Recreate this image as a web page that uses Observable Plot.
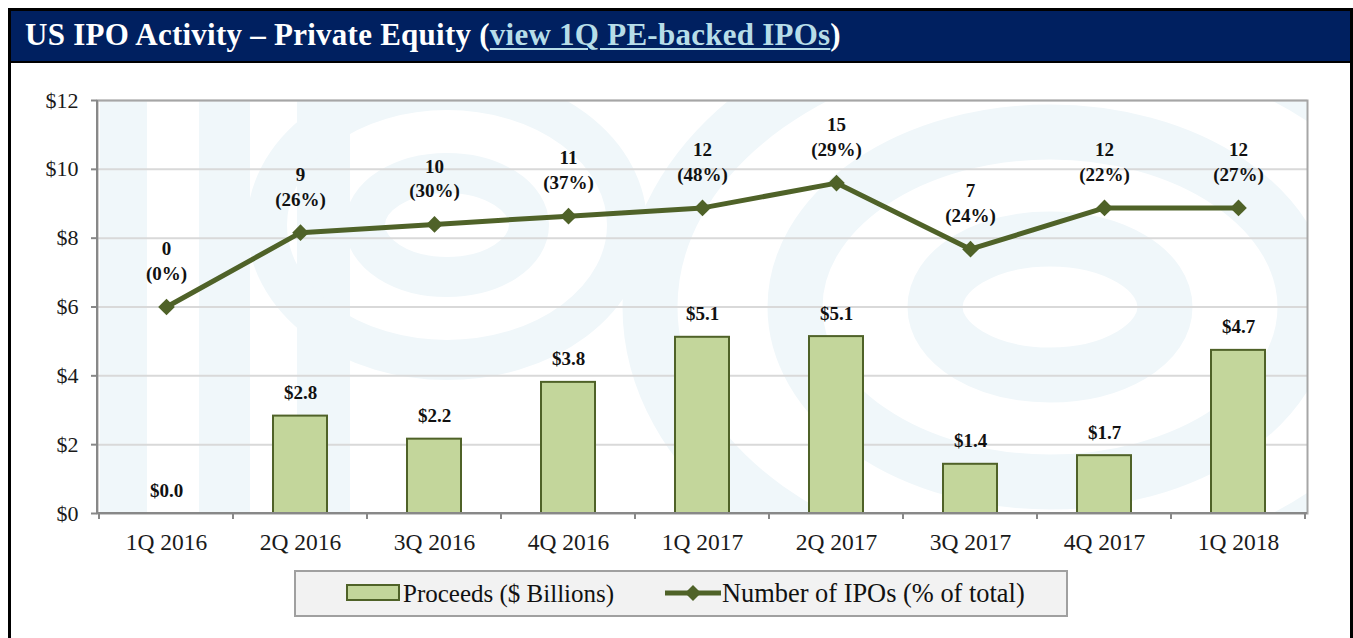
<!DOCTYPE html>
<html>
<head>
<meta charset="utf-8">
<script src="https://cdn.jsdelivr.net/npm/d3@7"></script>
<script src="https://cdn.jsdelivr.net/npm/@observablehq/plot@0.6"></script>
<style>
  html, body { margin: 0; padding: 0; background: #fff; }
  body { width: 1353px; height: 638px; position: relative; overflow: hidden; font-family: "Liberation Serif", "DejaVu Serif", serif; }
  #frame { position: absolute; left: 8px; top: 8px; width: 1339px; height: 640px; border: 3px solid #000; border-bottom: none; }
  #header { position: absolute; left: 0; top: 0; width: 1339px; height: 50px; background: #002060; border-bottom: 2px solid #000; }
  #title { position: absolute; left: 14px; top: 6px; color: #fff; font-size: 31px; font-weight: bold; white-space: nowrap; letter-spacing: 0.25px; }
  #title a { color: #b7dde8; text-decoration: underline; text-decoration-thickness: 2px; text-underline-offset: 3px; }
  #chart { position: absolute; left: 0; top: 63px; }
  #legend { position: absolute; left: 294px; top: 570px; width: 774px; height: 47px; box-sizing: border-box; background: #f2f2f2; border: 2px solid #a0a0a0; }
  .lg { position: absolute; top: 0; height: 43px; line-height: 43px; font-size: 25px; color: #111; white-space: nowrap; }
  .sw { position: absolute; }
</style>
</head>
<body>
<div id="frame">
  <div id="header"><div id="title">US IPO Activity – Private Equity (<a>view 1Q PE-backed IPOs</a>)</div></div>
</div>
<div id="chart"></div>
<div id="legend"></div>
<script>
// ---- data ----
const quarters = ["1Q 2016", "2Q 2016", "3Q 2016", "4Q 2016", "1Q 2017", "2Q 2017", "3Q 2017", "4Q 2017", "1Q 2018"];
const proceeds = [0.0, 2.83, 2.16, 3.81, 5.12, 5.14, 1.43, 1.68, 4.74];   // $ billions
const ipoCounts = [0, 9, 10, 11, 12, 15, 7, 12, 12];                       // number of PE-backed IPOs
const ipoShares = [0, 26, 30, 37, 48, 29, 24, 22, 27];                     // % of total IPOs
const yTicks = [0, 2, 4, 6, 8, 10, 12];                                    // primary axis ($B)
const yDomain = [0, 12];
const countAxisDomain = [-25, 25];                                          // hidden secondary axis for IPO count

const legendLabels = ["Proceeds ($ Billions)", "Number of IPOs (% of total)"];

const colBarFill = "#c3d69b", colDark = "#4f6228";

// secondary axis -> primary axis coordinates
const toPrimary = n => yDomain[0] + (n - countAxisDomain[0]) / (countAxisDomain[1] - countAxisDomain[0]) * (yDomain[1] - yDomain[0]);

const rows = quarters.map((q, i) => ({
  q, proceeds: proceeds[i], n: ipoCounts[i], pct: ipoShares[i], ny: toPrimary(ipoCounts[i])
}));

// ---- decorative watermark (faint "IPO" logo behind plot) ----
function watermark(index, scales, values, dims) {
  const {width, height, marginLeft, marginRight, marginTop, marginBottom} = dims;
  const g = d3.create("svg:g");
  const id = "wmclip";
  g.append("clipPath").attr("id", id).append("rect")
    .attr("x", marginLeft).attr("y", marginTop)
    .attr("width", width - marginLeft - marginRight).attr("height", height - marginTop - marginBottom);
  const col = "#f0f7fa";
  const w = g.append("g").attr("clip-path", `url(#${id})`).attr("fill", "none").attr("stroke", col);
  const off = 63; // page y offset of svg
  [[100, 147], [199, 250], [297, 350]].forEach(([a, b]) => {
    w.append("rect").attr("x", a).attr("y", marginTop).attr("width", b - a).attr("height", height - marginTop - marginBottom)
      .attr("fill", col).attr("stroke", "none");
  });
  [[447, 225, 82, 52, 40], [447, 225, 180, 135, 40]].forEach(([cx, cy, rx, ry, sw]) => {
    w.append("ellipse").attr("cx", cx).attr("cy", cy - off).attr("rx", rx).attr("ry", ry).attr("stroke-width", sw);
  });
  [[1050, 307, 115, 68, 55], [1050, 307, 255, 175, 55], [1050, 307, 400, 285, 55]].forEach(([cx, cy, rx, ry, sw]) => {
    w.append("ellipse").attr("cx", cx).attr("cy", cy - off).attr("rx", rx).attr("ry", ry).attr("stroke-width", sw);
  });
  return g.node();
}

// ---- axis decorations: left axis line, bottom boundary ticks ----
function axisLines(index, scales, values, dims) {
  const {width, height, marginLeft, marginRight, marginTop, marginBottom} = dims;
  const x = scales.x;
  const g = d3.create("svg:g").attr("stroke", "#888").attr("stroke-width", 2);
  const bottom = height - marginBottom;
  g.append("line").attr("x1", marginLeft).attr("x2", marginLeft).attr("y1", marginTop).attr("y2", bottom);
  g.append("line").attr("x1", marginLeft).attr("x2", width - marginRight).attr("y1", bottom).attr("y2", bottom);
  const bw = x.bandwidth ? x.bandwidth() : 0;
  const xs = quarters.map(q => x(q)).concat([x(quarters[quarters.length - 1]) + bw]);
  xs.forEach(px => g.append("line").attr("x1", px).attr("x2", px).attr("y1", bottom).attr("y2", bottom + 6));
  return g.node();
}

const chart = Plot.plot({
  width: 1353,
  height: 500,
  marginTop: 37,
  marginBottom: 50,
  marginLeft: 97,
  marginRight: 46,
  style: {fontFamily: "Liberation Serif, serif", background: "transparent", color: "#1a1a1a"},
  x: {type: "band", domain: quarters, padding: 0, axis: null, label: null},
  y: {domain: yDomain, axis: null, label: null},
  marks: [
    watermark,
    Plot.gridY(yTicks, {stroke: "#d9d9d9", strokeOpacity: 1, strokeWidth: 2}),
    Plot.frame({stroke: "#a6a6a6", strokeWidth: 2}),
    Plot.barY(rows.filter(d => d.proceeds > 0), {x: "q", y: "proceeds", fill: colBarFill, stroke: colDark, strokeWidth: 2, insetLeft: 40, insetRight: 40}),
    axisLines,
    Plot.axisY(yTicks, {tickFormat: d => "$" + d, tickSize: 6, tickPadding: 13, fontSize: 22, stroke: "#888", strokeWidth: 2, fill: "#1a1a1a", label: null}),
    Plot.axisX(quarters, {tickSize: 0, tickPadding: 20, fontSize: 23.5, fill: "#1a1a1a", label: null}),
    Plot.line(rows, {x: "q", y: "ny", stroke: colDark, strokeWidth: 5}),
    Plot.dot(rows, {x: "q", y: "ny", symbol: "diamond2", r: 7.5, fill: colDark, stroke: "none"}),
    Plot.text(rows, {x: "q", y: "proceeds", text: d => "$" + d.proceeds.toFixed(1), lineAnchor: "bottom", dy: -17, fontWeight: "bold", fontSize: 19, fill: "#111"}),
    Plot.text(rows, {x: "q", y: "ny", text: d => `${d.n}\n(${d.pct}%)`, lineAnchor: "bottom", dy: -27, lineHeight: 1.3, fontWeight: "bold", fontSize: 19, fill: "#111"})
  ]
});
document.getElementById("chart").appendChild(chart);

// ---- legend ----
const lg = document.getElementById("legend");
lg.innerHTML = `
  <svg class="sw" style="left:50px;top:12px" width="54" height="18"><rect x="1" y="1" width="52" height="15" fill="${colBarFill}" stroke="${colDark}" stroke-width="2"/></svg>
  <div class="lg" style="left:107px">${legendLabels[0]}</div>
  <svg class="sw" style="left:368px;top:10px" width="58" height="22"><line x1="1" y1="11" x2="57" y2="11" stroke="${colDark}" stroke-width="5"/><path d="M29 3 L37 11 L29 19 L21 11 Z" fill="${colDark}"/></svg>
  <div class="lg" style="left:426px;font-size:26.4px">${legendLabels[1]}</div>`;
</script>
</body>
</html>
